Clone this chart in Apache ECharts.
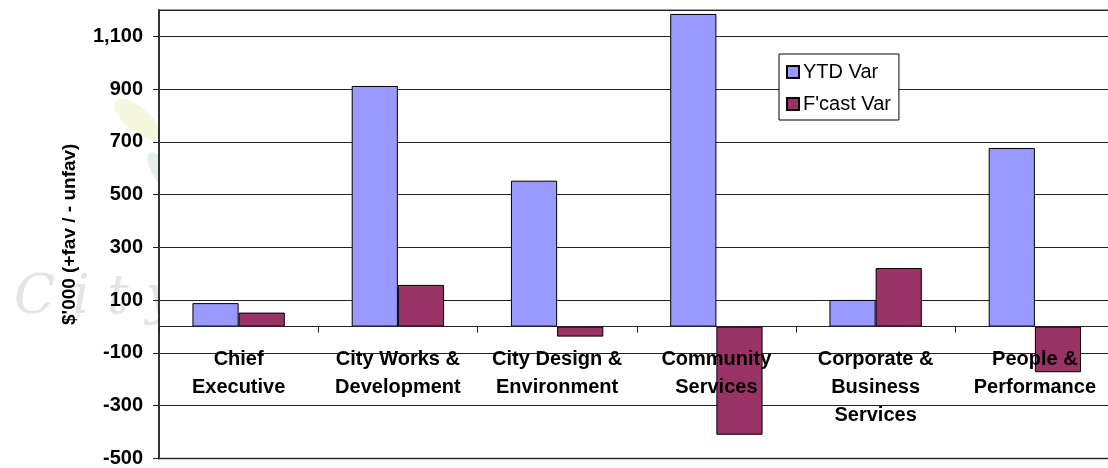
<!DOCTYPE html>
<html>
<head>
<meta charset="utf-8">
<script src="https://cdn.jsdelivr.net/npm/echarts@6/dist/echarts.min.js"></script>
<style>
html,body{margin:0;padding:0;background:#fff;}
#chart{width:1108px;height:468px;}
</style>
</head>
<body>
<div id="chart"></div>
<script>
const categories = ['Chief\nExecutive', 'City Works &\nDevelopment', 'City Design &\nEnvironment', 'Community\nServices', 'Corporate &\nBusiness\nServices', 'People &\nPerformance'];
const ytdVar = [89, 912, 553, 1185, 101, 677];
const fcastVar = [53, 158, -38, -410, 222, -173];
const seriesNames = ['YTD Var', "F'cast Var"];
const yAxisTitle = "$'000 (+fav / - unfav)";
const yMin = -500, yMax = 1200, yStep = 200;

const font = '"Liberation Sans", Arial, sans-serif';
const gridTop = 10, gridBottom = 9.5, H = 468;
const gridH = H - gridTop - gridBottom;
// place the category axis at value 0 using the value scale
const zeroOffset = -((0 - yMin) / (yMax - yMin)) * gridH;

const chart = echarts.init(document.getElementById('chart'), null, {renderer: 'canvas'});
chart.setOption({
  backgroundColor: '#fff',
  animation: false,
  graphic: [
    {type: 'ellipse', z: -10, left: 108, top: 92, shape: {cx: 0, cy: 0, rx: 28, ry: 12}, rotation: -0.7, style: {fill: 'rgba(235,242,190,0.5)'}},
    {type: 'ellipse', z: -10, left: 142, top: 148, shape: {cx: 0, cy: 0, rx: 22, ry: 9}, rotation: -1.0, style: {fill: 'rgba(200,222,222,0.5)'}},
    {type: 'text', z: -10, left: 14, top: 272, style: {text: 'C i t y', fill: '#e4e4e4', font: 'italic 54px "DejaVu Serif", serif'}}
  ],
  grid: {left: 159, top: gridTop, width: 955.5, bottom: gridBottom, outerBoundsMode: 'none', containLabel: false,
         show: true, backgroundColor: '#fff', borderColor: '#a0a0a0', borderWidth: 2},
  legend: {
    orient: 'vertical', left: 779, top: 54, width: 122,
    padding: [8, 8, 6, 7], itemGap: 12, itemWidth: 12, itemHeight: 12,
    backgroundColor: '#fff', borderColor: '#000', borderWidth: 1, borderRadius: 0,
    textStyle: {fontFamily: font, fontSize: 20, color: '#000', padding: [0, 0, 0, -1]},
    data: seriesNames.map(n => ({name: n, icon: 'rect'}))
  },
  xAxis: {
    type: 'category', data: categories, offset: zeroOffset, z: 10,
    axisLine: {onZero: false, lineStyle: {color: '#222', width: 1}},
    axisTick: {show: true, length: 6, lineStyle: {color: '#222'}},
    axisLabel: {interval: 0, margin: 19, fontFamily: font, fontSize: 20, fontWeight: 'bold', color: '#000', lineHeight: 28},
    splitLine: {show: false}
  },
  yAxis: {
    type: 'value', min: yMin, max: yMax, interval: yStep,
    name: yAxisTitle, nameLocation: 'middle', nameGap: 80, nameRotate: 90,
    nameTextStyle: {fontFamily: font, fontSize: 19, fontWeight: 'bold', color: '#000'},
    axisLine: {show: true, lineStyle: {color: '#333', width: 2}},
    axisTick: {show: true, length: 6, lineStyle: {color: '#222'}},
    axisLabel: {
      margin: 16, fontFamily: font, fontSize: 20, fontWeight: 'bold', color: '#000',
      showMaxLabel: false,
      formatter: v => (v === yMax ? '' : v.toLocaleString('en-US'))
    },
    splitLine: {show: true, lineStyle: {color: '#222', width: 1}}
  },
  series: [
    {name: seriesNames[0], type: 'bar', data: ytdVar, barGap: '0%', barCategoryGap: '42%',
     itemStyle: {color: '#9999FF', borderColor: '#000', borderWidth: 1}},
    {name: seriesNames[1], type: 'bar', data: fcastVar,
     itemStyle: {color: '#993366', borderColor: '#000', borderWidth: 1}}
  ]
});
</script>
</body>
</html>
